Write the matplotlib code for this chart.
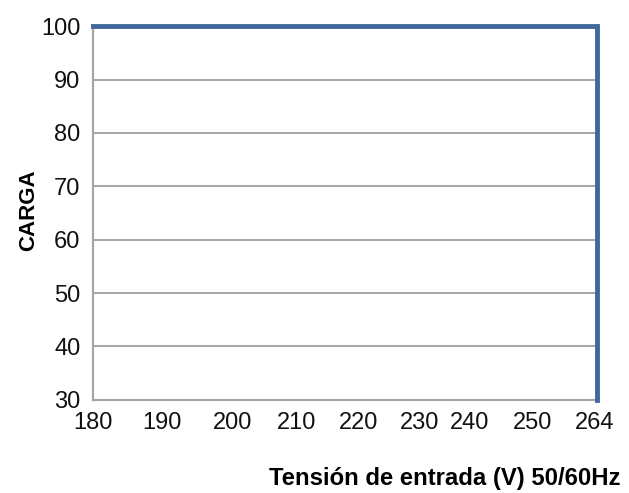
import matplotlib

matplotlib.use("Agg")
import matplotlib.pyplot as plt

# -- data -------------------------------------------------------------------
voltage = [180, 264, 264]
load = [100, 100, 30]

x_tick_labels = ["180", "190", "200", "210", "220", "230", "240", "250", "264"]
# label positions as drawn in the original (not evenly spaced)
x_tick_pos = [180, 191.5, 203.2, 214.0, 224.3, 234.5, 242.8, 253.2, 263.7]
y_ticks = [30, 40, 50, 60, 70, 80, 90, 100]

plt.rcParams["font.family"] = ["Liberation Sans", "DejaVu Sans"]

fig = plt.figure(figsize=(6.29, 4.93), dpi=100)
ax = fig.add_axes([0.148, 0.189, 0.801, 0.758])

grid_c = "#a6a6a6"
for y in y_ticks[1:]:
    ax.axhline(y, color=grid_c, lw=1.4, zorder=1)

ax.plot(voltage, load, color="#41689c", lw=3.5, solid_joinstyle="miter",
        clip_on=False, zorder=3)

ax.set_xlim(180, 264)
ax.set_ylim(30, 100)
ax.set_yticks(y_ticks)
ax.set_xticks(x_tick_pos)
ax.set_xticklabels(x_tick_labels)

for side in ("top", "right"):
    ax.spines[side].set_visible(False)
for side in ("left", "bottom"):
    ax.spines[side].set_color(grid_c)
    ax.spines[side].set_linewidth(1.6)

ax.tick_params(length=0, labelsize=17, colors="#111111")
ax.tick_params(axis="x", pad=9)
ax.tick_params(axis="y", pad=9)

fig.text(0.045, 0.574, "CARGA", rotation=90, fontsize=16, fontweight="bold",
         ha="center", va="center")
fig.text(0.987, 0.03, "Tensión de entrada (V) 50/60Hz", fontsize=17.2,
         fontweight="bold", ha="right", va="center")

fig.savefig("out.png", dpi=100, facecolor="white")
